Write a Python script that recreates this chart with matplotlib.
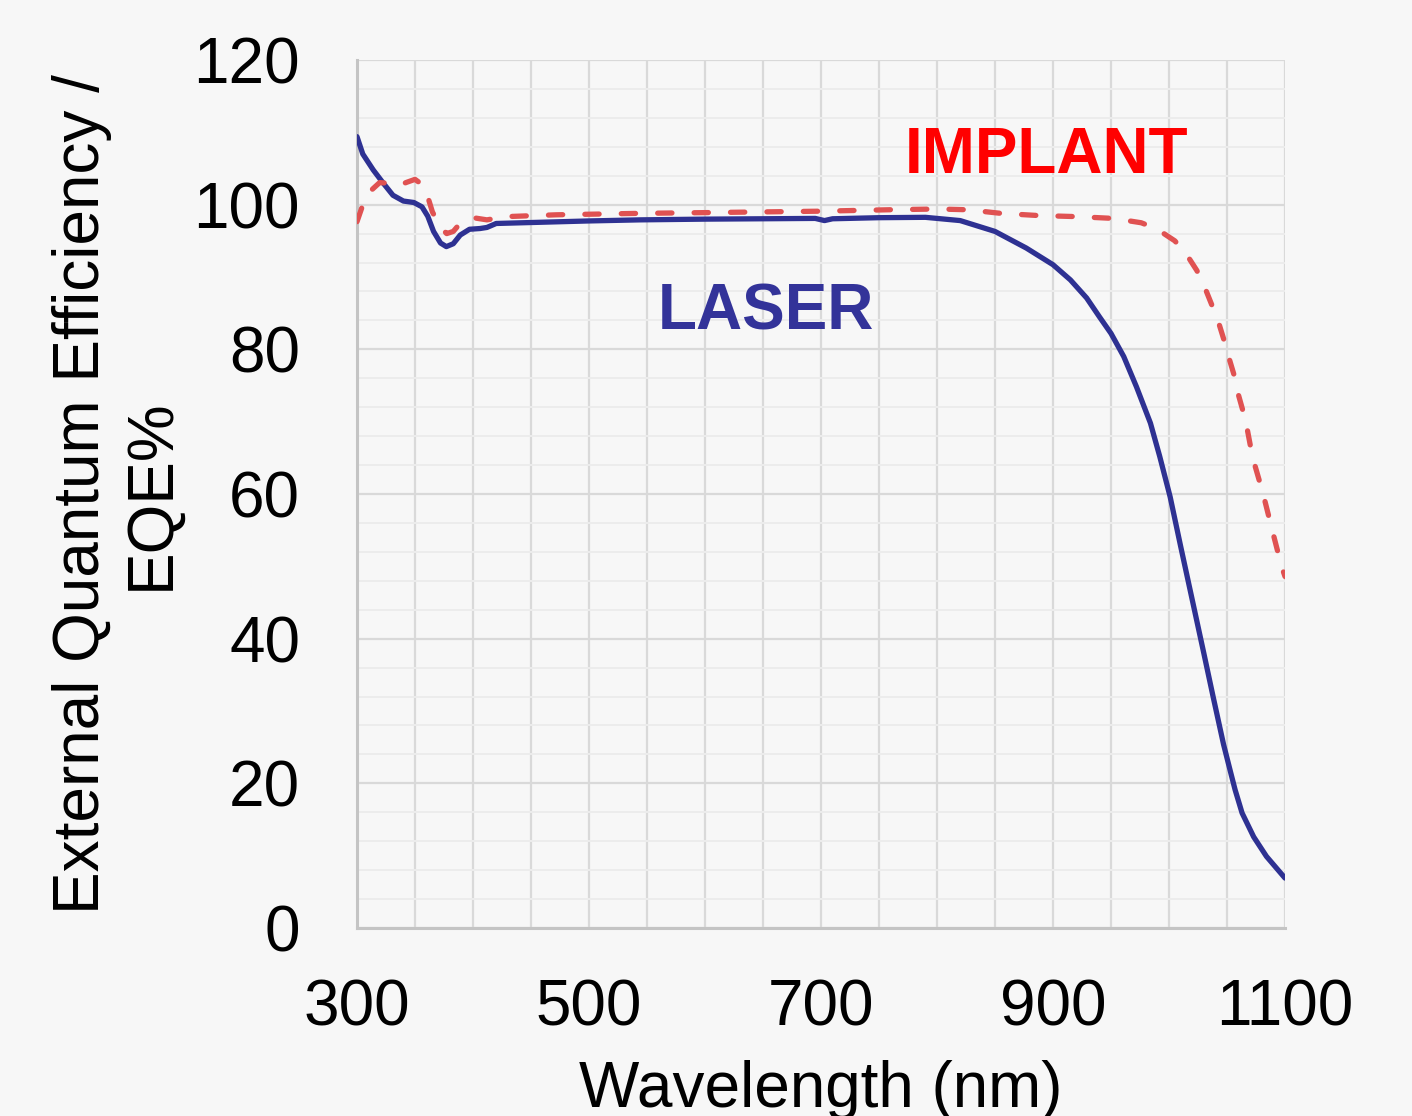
import numpy as np
import matplotlib
matplotlib.use("Agg")
import matplotlib.pyplot as plt
from matplotlib.ticker import MultipleLocator

laser_wl = [300, 305, 314, 323, 331, 340, 349, 356, 361, 366, 372, 377, 383, 389,
            397, 406, 412, 420, 443, 500, 544, 600, 650, 695, 703, 710, 750, 790,
            820, 850, 877, 900, 915, 929, 940, 950, 961, 972, 984, 992, 1001, 1010,
            1020, 1030, 1038, 1047, 1053, 1057, 1063, 1073, 1084, 1100]
laser_eqe = [109.4, 107.0, 104.8, 102.9, 101.3, 100.5, 100.3, 99.7, 98.4, 96.3,
             94.7, 94.2, 94.6, 95.8, 96.6, 96.7, 96.85, 97.4, 97.5, 97.75, 97.9,
             98.0, 98.05, 98.1, 97.8, 98.05, 98.2, 98.25, 97.8, 96.3, 94.0, 91.7,
             89.6, 87.1, 84.5, 82.2, 79.0, 74.8, 69.8, 65.2, 59.6, 52.8, 45.4,
             38.0, 32.0, 25.4, 21.6, 19.1, 15.9, 12.6, 9.9, 6.9]

implant_wl = [300, 305.5, 311, 319.5, 328, 335, 343, 350, 356, 361, 365, 371.6,
              377.3, 383, 388.8, 400, 412, 429, 472, 544, 600, 700, 760, 800, 826,
              855, 887, 920, 952, 976, 989, 1005, 1014, 1024, 1030, 1037, 1042,
              1047, 1051, 1056, 1059, 1066, 1072, 1081, 1089, 1097, 1100]
implant_eqe = [97.65, 100.2, 101.8, 103.05, 102.95, 102.6, 103.1, 103.5, 102.8,
               101.1, 99.0, 96.95, 96.0, 96.3, 97.4, 98.2, 97.9, 98.35, 98.6, 98.8,
               98.9, 99.1, 99.3, 99.4, 99.3, 98.8, 98.5, 98.35, 98.1, 97.5, 96.7,
               95.0, 93.4, 90.9, 88.9, 86.1, 84.1, 81.5, 79.2, 76.5, 74.2, 70.2,
               65.1, 60.1, 55.0, 50.0, 48.6]

x_ticks = [300, 500, 700, 900, 1100]
y_ticks = [0, 20, 40, 60, 80, 100, 120]

BG = "#f7f7f7"
FONT = "Liberation Sans"

plt.rcParams["font.family"] = [FONT, "DejaVu Sans"]

fig = plt.figure(figsize=(14.12, 11.16), dpi=100, facecolor=BG)
ax = fig.add_axes([357 / 1412, 1 - 928 / 1116, 928 / 1412, 868 / 1116])
ax.set_facecolor(BG)

ax.plot(laser_wl, laser_eqe, color="#2e3192", lw=3.8, solid_joinstyle="round",
        solid_capstyle="round", zorder=3)
ax.plot(implant_wl, implant_eqe, color="#e05252", lw=3.8, dashes=(2.7, 4.2),
        dash_capstyle="round", dash_joinstyle="round", zorder=3)

ax.set_xlim(300, 1100)
ax.set_ylim(0, 120)
ax.set_xticks(x_ticks)
ax.set_yticks(y_ticks)
ax.xaxis.set_minor_locator(MultipleLocator(50))
ax.yaxis.set_minor_locator(MultipleLocator(4))

ax.set_axisbelow(True)
ax.grid(which="major", color="#d9d9d9", lw=1.6)
ax.grid(which="minor", axis="x", color="#d9d9d9", lw=1.6)
ax.grid(which="minor", axis="y", color="#ececec", lw=1.4)

ax.tick_params(which="both", length=0)
ax.tick_params(axis="y", labelsize=46, pad=41)
ax.tick_params(axis="x", labelsize=46, pad=36)

for side in ("top", "right"):
    ax.spines[side].set_visible(False)
for side in ("left", "bottom"):
    ax.spines[side].set_color("#c4c4c4")
    ax.spines[side].set_linewidth(2.2)

ax.set_xlabel("Wavelength (nm)", fontsize=46)
ax.xaxis.set_label_coords(0.5, -0.152)
ax.text(-0.2586, 0.5, "External Quantum Efficiency /\nEQE%", transform=ax.transAxes,
        rotation=90, ha="center", va="center", multialignment="center",
        fontsize=46, linespacing=1.2)

ax.text(894.8, 104.4, "IMPLANT", color="#ff0000", fontsize=46, fontweight="bold",
        ha="center", va="baseline")
ax.text(652.6, 82.7, "LASER", color="#333399", fontsize=46, fontweight="bold",
        ha="center", va="baseline")

fig.savefig("out.png", dpi=100, facecolor=BG)
